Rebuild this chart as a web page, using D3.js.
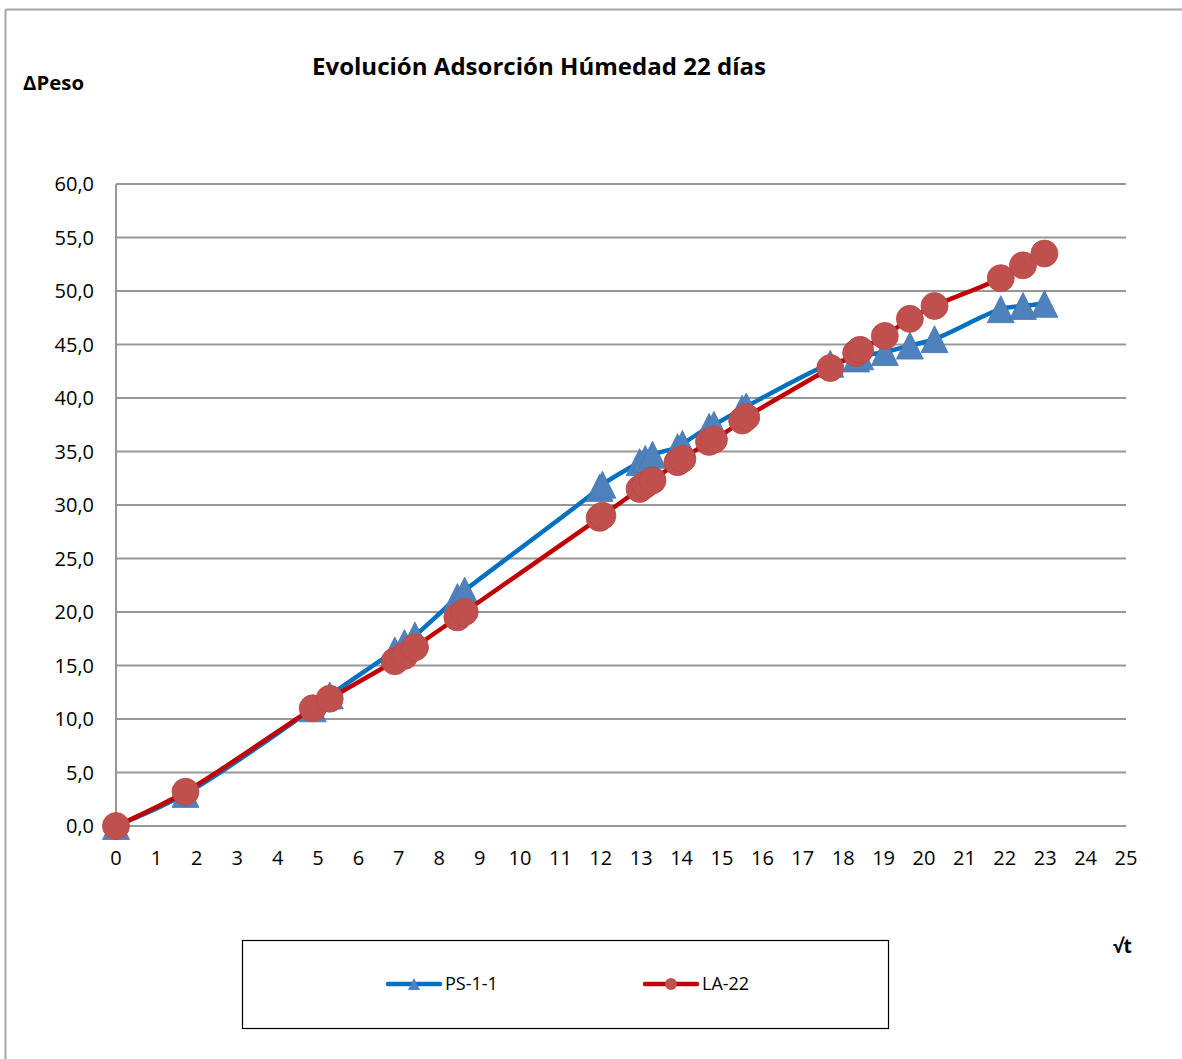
<!DOCTYPE html>
<html>
<head>
<meta charset="utf-8">
<script src="https://cdn.jsdelivr.net/npm/d3@7"></script>
<style>
  html, body { margin: 0; padding: 0; background: #fff; }
  svg { display: block; }
  text { font-family: "Open Sans", "Noto Sans", sans-serif; fill: #000; }
</style>
</head>
<body>
<svg id="chart" width="1182" height="1059"></svg>
<script>
// ---- data ----
const sqrtT = [0, 1.72, 4.87, 5.29, 6.90, 7.14, 7.40, 8.45, 8.63, 11.97, 12.04, 12.96, 13.10, 13.28, 13.90, 14.02, 14.68, 14.80, 15.50, 15.60, 17.68, 18.32, 18.42, 19.03, 19.65, 20.26, 21.90, 22.45, 22.98];
const ps11  = [0, 3.0, 11.0, 12.2, 16.4, 17.1, 17.8, 21.4, 22.0, 31.6, 31.9, 34.0, 34.3, 34.7, 35.4, 35.7, 37.3, 37.5, 39.0, 39.2, 43.2, 43.7, 43.9, 44.3, 44.9, 45.5, 48.3, 48.6, 48.8];
const la22  = [0, 3.2, 11.0, 11.9, 15.4, 15.9, 16.7, 19.5, 20.0, 28.8, 29.0, 31.5, 31.9, 32.3, 34.0, 34.3, 35.9, 36.1, 37.9, 38.2, 42.8, 44.2, 44.5, 45.8, 47.4, 48.6, 51.2, 52.4, 53.5];
const seriesNames = ["PS-1-1", "LA-22"];
const xTicks = d3.range(0, 26, 1);
const yTicks = [0, 5, 10, 15, 20, 25, 30, 35, 40, 45, 50, 55, 60];
const titleText = "Evolución Adsorción Húmedad 22 días";
const yAxisTitle = "ΔPeso";
const xAxisTitle = "√t";

// ---- layout ----
const svg = d3.select("#chart");
const x = d3.scaleLinear().domain([0, 25]).range([116, 1126]);
const y = d3.scaleLinear().domain([0, 60]).range([826, 184]);
const fmt = v => v.toFixed(1).replace(".", ",");

// outer frame (top and left edges visible)
svg.append("line").attr("x1", 5.5).attr("y1", 9.5).attr("x2", 1182).attr("y2", 9.5)
  .attr("stroke", "#a6a6a6").attr("stroke-width", 2);
svg.append("line").attr("x1", 5.5).attr("y1", 9.5).attr("x2", 5.5).attr("y2", 1059)
  .attr("stroke", "#a6a6a6").attr("stroke-width", 2);

// gridlines
const grid = svg.append("g");
grid.selectAll("line").data(yTicks).join("line")
  .attr("x1", x(0)).attr("x2", x(25))
  .attr("y1", d => y(d)).attr("y2", d => y(d))
  .attr("stroke", "#979797").attr("stroke-width", 2);
// y axis line
svg.append("line").attr("x1", x(0)).attr("x2", x(0)).attr("y1", y(60)).attr("y2", y(0))
  .attr("stroke", "#979797").attr("stroke-width", 2);

// y tick labels
svg.append("g").selectAll("text").data(yTicks).join("text")
  .attr("x", 94).attr("y", d => y(d) + 7)
  .attr("text-anchor", "end").attr("font-size", 20)
  .text(d => fmt(d));

// x tick labels
svg.append("g").selectAll("text").data(xTicks).join("text")
  .attr("x", d => x(d)).attr("y", 865)
  .attr("text-anchor", "middle").attr("font-size", 20)
  .text(d => d);

// titles
svg.append("text").attr("x", 312).attr("y", 75)
  .attr("font-size", 23).attr("font-weight", "bold")
  .attr("textLength", 454).attr("lengthAdjust", "spacingAndGlyphs")
  .text(titleText);
svg.append("text").attr("x", 23).attr("y", 90)
  .attr("font-size", 19).attr("font-weight", "bold")
  .attr("textLength", 61).attr("lengthAdjust", "spacingAndGlyphs")
  .text(yAxisTitle);
svg.append("text").attr("x", 1113).attr("y", 953)
  .attr("font-size", 19).attr("font-weight", "bold")
  .text(xAxisTitle);

// series
const ptsPS = sqrtT.map((t, i) => [t, ps11[i]]);
const ptsLA = sqrtT.map((t, i) => [t, la22[i]]);
const line = d3.line().x(d => x(d[0])).y(d => y(d[1])).curve(d3.curveCatmullRom.alpha(0.5));

const triPath = (w, h) => `M0,${-h/2}L${w/2},${h/2}L${-w/2},${h/2}Z`;

// PS-1-1
svg.append("path").datum(ptsPS).attr("d", line)
  .attr("fill", "none").attr("stroke", "#0070C0").attr("stroke-width", 4.5)
  .attr("stroke-linejoin", "round").attr("stroke-linecap", "round");
svg.append("g").selectAll("path").data(ptsPS).join("path")
  .attr("d", triPath(27, 27))
  .attr("transform", d => `translate(${x(d[0])},${y(d[1])})`)
  .attr("fill", "#4F81BD").attr("stroke", "#4677b3").attr("stroke-width", 0.8);

// LA-22
svg.append("path").datum(ptsLA).attr("d", line)
  .attr("fill", "none").attr("stroke", "#C00000").attr("stroke-width", 4.5)
  .attr("stroke-linejoin", "round").attr("stroke-linecap", "round");
svg.append("g").selectAll("circle").data(ptsLA).join("circle")
  .attr("cx", d => x(d[0])).attr("cy", d => y(d[1])).attr("r", 13.5)
  .attr("fill", "#C0504D").attr("stroke", "#b54a47").attr("stroke-width", 0.8);

// legend
svg.append("rect").attr("x", 242.5).attr("y", 940.5).attr("width", 646).attr("height", 88)
  .attr("fill", "none").attr("stroke", "#000").attr("stroke-width", 1.2);
const legendItems = [
  { name: seriesNames[0], x1: 388, x2: 440, color: "#0070C0", marker: "tri", mcol: "#4F81BD", tx: 445 },
  { name: seriesNames[1], x1: 645, x2: 697, color: "#C00000", marker: "circ", mcol: "#C0504D", tx: 702 }
];
const lg = svg.append("g");
legendItems.forEach(it => {
  lg.append("line").attr("x1", it.x1).attr("x2", it.x2).attr("y1", 984).attr("y2", 984)
    .attr("stroke", it.color).attr("stroke-width", 4.5).attr("stroke-linecap", "round");
  const cx = (it.x1 + it.x2) / 2;
  if (it.marker === "tri") {
    lg.append("path").attr("d", triPath(12, 12)).attr("transform", `translate(${cx},984)`)
      .attr("fill", it.mcol);
  } else {
    lg.append("circle").attr("cx", cx).attr("cy", 984).attr("r", 6).attr("fill", it.mcol);
  }
  lg.append("text").attr("x", it.tx).attr("y", 990).attr("font-size", 18).text(it.name);
});
</script>
</body>
</html>
